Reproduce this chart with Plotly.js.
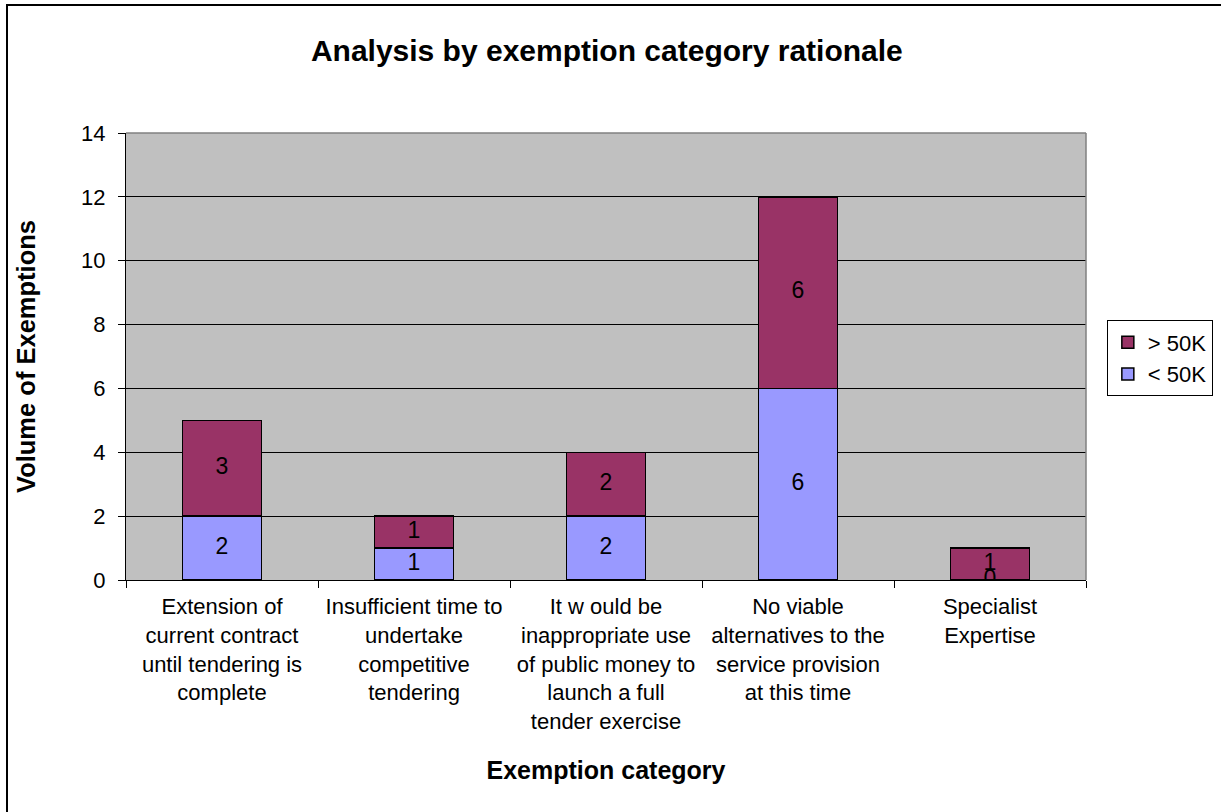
<!DOCTYPE html>
<html>
<head>
<meta charset="utf-8">
<script src="https://cdn.plot.ly/plotly-3.0.1.min.js"></script>
<style>
  html, body { margin: 0; padding: 0; overflow: hidden; background: #fff; }
  #chart { width: 1221px; height: 812px; }
  #frame { position: absolute; left: 6px; top: 4px; width: 1400px; height: 1000px;
           border: 2px solid #000; pointer-events: none; }
</style>
</head>
<body>
<div id="chart"></div>
<div id="frame"></div>
<script>
const categories = [
  "Extension of<br>current contract<br>until tendering is<br>complete",
  "Insufficient time to<br>undertake<br>competitive<br>tendering",
  "It w ould be<br>inappropriate use<br>of public money to<br>launch a full<br>tender exercise",
  "No viable<br>alternatives to the<br>service provision<br>at this time",
  "Specialist<br>Expertise"
];
const under50K = [2, 1, 2, 6, 0];
const over50K = [3, 1, 2, 6, 1];
const yTicks = [0, 2, 4, 6, 8, 10, 12, 14];

const FONT = "Liberation Sans, Arial, sans-serif";
const barW = 0.41;

const traces = [
  {
    type: "bar", name: "< 50K", x: categories, y: under50K, width: barW,
    marker: { color: "#9999FF", line: { color: "#000", width: 1.5 } },
    hoverinfo: "y"
  },
  {
    type: "bar", name: "> 50K", x: categories, y: over50K, width: barW,
    marker: { color: "#993366", line: { color: "#000", width: 1.5 } },
    hoverinfo: "y"
  },
  {
    type: "scatter", mode: "text", showlegend: false, hoverinfo: "skip",
    x: categories, y: under50K.map(v => v / 2),
    text: under50K.map(String), textposition: "middle center",
    textfont: { family: FONT, size: 23, color: "#000" }
  },
  {
    type: "scatter", mode: "text", showlegend: false, hoverinfo: "skip",
    x: categories, y: over50K.map((v, i) => under50K[i] + v / 2),
    text: over50K.map(String), textposition: "middle center",
    textfont: { family: FONT, size: 23, color: "#000" }
  }
];

const layout = {
  width: 1221, height: 812,
  margin: { l: 126, r: 135, t: 133, b: 232 },
  paper_bgcolor: "#fff",
  plot_bgcolor: "#C0C0C0",
  barmode: "stack",
  bargap: 0.59,
  font: { family: FONT, color: "#000" },
  title: {
    text: "<b>Analysis by exemption category rationale</b>",
    font: { family: FONT, size: 30, color: "#000" },
    x: 0.497, xanchor: "center", y: 0.938, yanchor: "middle"
  },
  xaxis: {
    type: "category",
    tickfont: { family: FONT, size: 22, color: "#000" },
    ticks: "outside", tickson: "boundaries", ticklen: 7, tickcolor: "#000",
    showline: true, linecolor: "#000", linewidth: 1,
    showgrid: false, zeroline: false,
    ticklabelstandoff: 7,
    title: { text: "<b>Exemption category</b>", font: { family: FONT, size: 25, color: "#000" }, standoff: 28 }
  },
  yaxis: {
    range: [0, 14], tickvals: yTicks, ticktext: yTicks.map(String),
    tickfont: { family: FONT, size: 22, color: "#000" },
    ticks: "outside", ticklen: 7, tickcolor: "#000",
    showline: true, linecolor: "#000", linewidth: 1,
    showgrid: true, gridcolor: "#000", gridwidth: 1, zeroline: false,
    ticklabelstandoff: 8,
    title: { text: "<b>Volume of Exemptions</b>", font: { family: FONT, size: 25.5, color: "#000" }, standoff: 38 }
  },
  legend: {
    xref: "container", yref: "container",
    x: 0.9065, xanchor: "left", y: 0.5585, yanchor: "middle",
    traceorder: "reversed",
    bgcolor: "#fff", bordercolor: "#000", borderwidth: 1,
    font: { family: FONT, size: 22, color: "#000" },
    itemwidth: 30
  },
  shapes: [
    { type: "line", xref: "paper", yref: "paper", x0: 0, x1: 1, y0: 1, y1: 1,
      line: { color: "#808080", width: 1.5 }, layer: "above" },
    { type: "line", xref: "paper", yref: "paper", x0: 1, x1: 1, y0: 0, y1: 1,
      line: { color: "#808080", width: 1.5 }, layer: "above" }
  ],
  showlegend: true
};

Plotly.newPlot("chart", traces, layout, { displayModeBar: false, staticPlot: true });
</script>
</body>
</html>
